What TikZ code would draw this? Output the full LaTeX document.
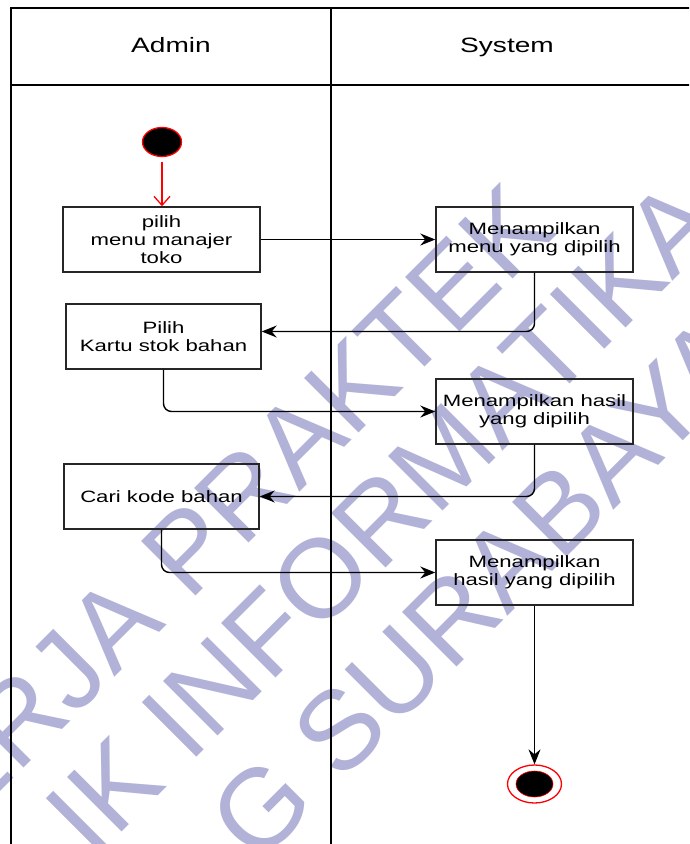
\documentclass[tikz,border=0pt]{standalone}
\usepackage{fontspec}
\usepackage{graphicx}
\setmainfont{Liberation Sans}
\usetikzlibrary{arrows.meta,shapes.geometric}

\definecolor{wmark}{RGB}{178,178,217}
\newcommand{\wide}[1]{\scalebox{1.35}[1]{#1}}

\tikzset{
  act/.style={draw=black!85, line width=1.4pt, minimum width=197pt, minimum height=65pt,
    inner sep=0pt, align=center, font=\fontsize{16.4pt}{18pt}\selectfont},
  flow/.style={draw=black, line width=1.4pt, rounded corners=8pt,
    -{Stealth[length=15pt,width=12pt,inset=5pt]}},
  lane/.style={draw=black, line width=1.5pt},
  lanetitle/.style={font=\fontsize{20.8pt}{24pt}\selectfont, inner sep=0pt, anchor=base},
  wm/.style={text=wmark, font=\fontsize{112pt}{112pt}\selectfont, rotate=45,
    anchor=base west, inner sep=0pt},
}

\begin{document}
\begin{tikzpicture}[x=1pt,y=-1pt]
  \useasboundingbox (0,0) rectangle (689,844);
  \fill[white] (0,0) rectangle (689,844);
  \clip (0,0) rectangle (689,844);

  % background watermark
  \node[wm] (wm1) at (-88,880) {KERJA PRAKTEK};
  \node[wm] (wm2) at (93,861) {IK INFORMATIKA};
  \node[wm] (wm3) at (257,867) {G SURABAYA};

  % swimlanes
  \draw[lane] (690,8) -- (11,8) -- (11,846);
  \draw[lane] (11,85) -- (690,85);
  \draw[lane] (331,8) -- (331,846);
  \node[lanetitle] (hadmin) at (171,52.5) {\wide{Admin}};
  \node[lanetitle] (hsys) at (507,52.5) {\wide{System}};

  % activities
  \node[act] (a1) at (161.5,239.5) {\wide{pilih}\\\wide{menu manajer}\\\wide{toko}};
  \node[act] (s1) at (534.5,239.5) {\wide{Menampilkan}\\\wide{menu yang dipilih}};
  \node[act, minimum width=195pt] (a2) at (163.5,336.5) {\wide{Pilih}\\\wide{Kartu stok bahan}};
  \node[act] (s2) at (534.5,411.5) {\wide{Menampilkan hasil}\\\wide{yang dipilih}};
  \node[act, minimum width=195pt] (a3) at (161.5,496.5) {\wide{Cari kode bahan}};
  \node[act] (s3) at (534.5,572.5) {\wide{Menampilkan}\\\wide{hasil yang dipilih}};

  % initial and final states
  \node[ellipse, draw=red, fill=black, line width=1.3pt, minimum width=39pt,
    minimum height=29pt, inner sep=0pt] (start) at (162,142) {};
  \node[ellipse, draw=red, fill=white, line width=1.3pt, minimum width=54pt,
    minimum height=38pt, inner sep=0pt] (end) at (534.5,784) {};
  \node[ellipse, draw=red, fill=black, line width=0.6pt, minimum width=37pt,
    minimum height=26pt, inner sep=0pt] (endcore) at (end) {};

  % control flow
  \draw[red, line width=1.3pt, shorten <=5pt, -{Straight Barb[length=9pt,width=16pt]}]
    (start.south) -- (start.south |- a1.north);
  \draw[flow] (a1.east) -- (s1.west);
  \draw[flow] (s1.south) |- ([yshift=5pt]a2.east);
  \draw[flow] (a2.south) |- (s2.west);
  \draw[flow] (s2.south) |- (a3.east);
  \draw[flow] (a3.south) |- (s3.west);
  \draw[flow] (s3.south) -- (end.north);
\end{tikzpicture}
\end{document}
